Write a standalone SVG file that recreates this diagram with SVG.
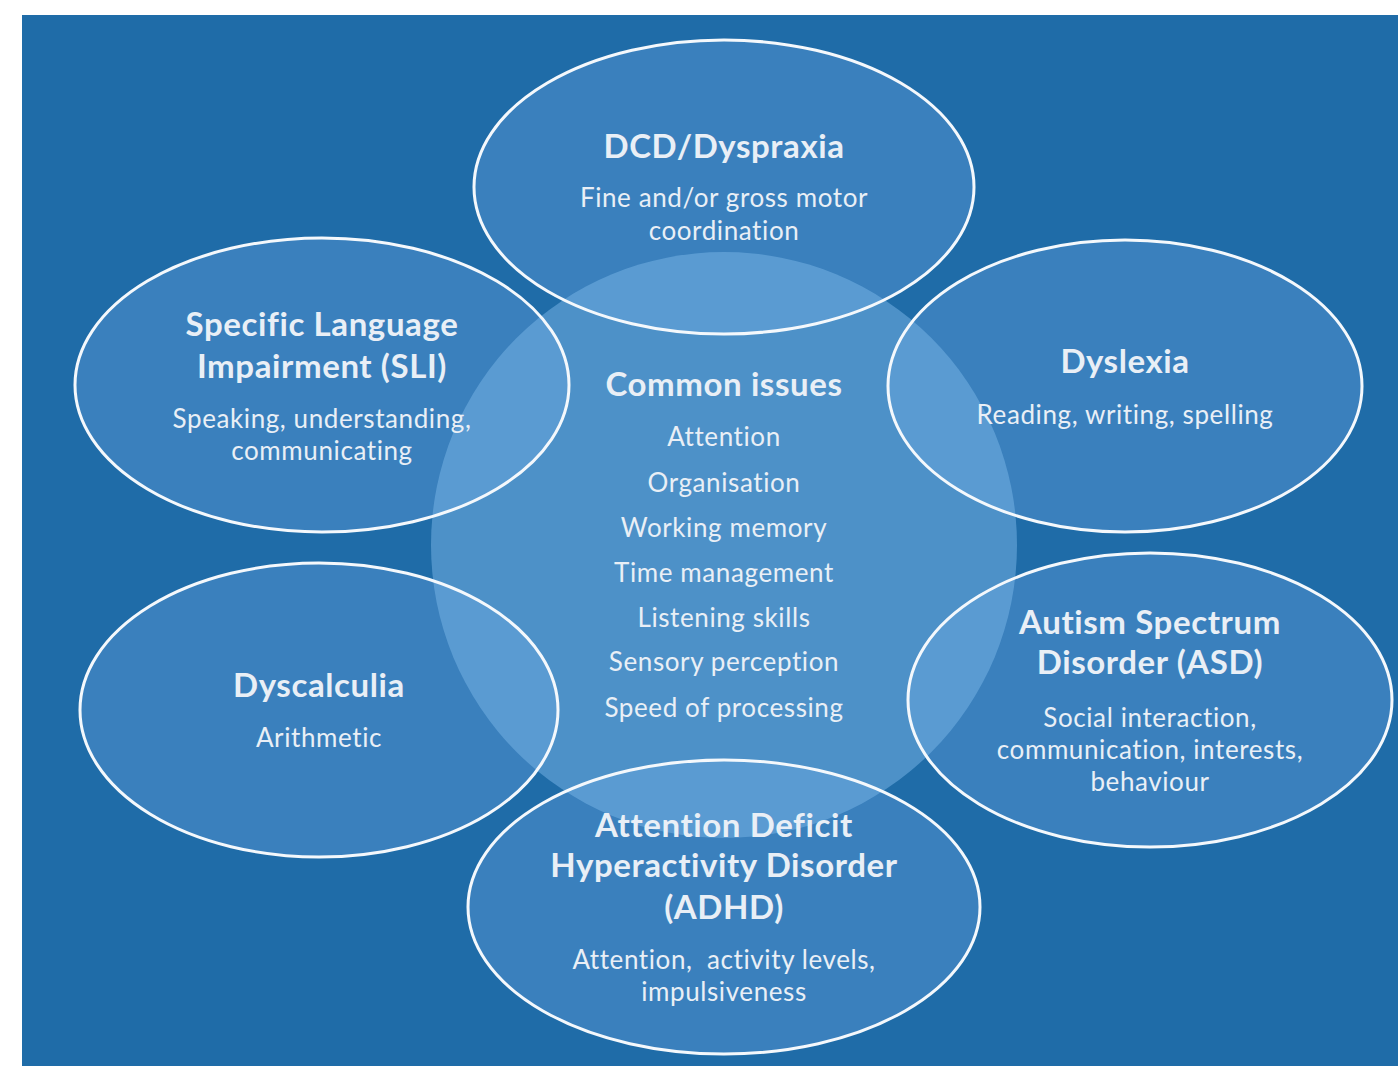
<svg xmlns="http://www.w3.org/2000/svg" width="1398" height="1066" viewBox="0 0 1398 1066">
<style>
.bg{fill:#1f6ca8}
.ell{fill:#5a9ad6;fill-opacity:0.45;stroke:none}
.edge{fill:none;stroke:#f4f8fc;stroke-width:3}
.core{fill:#78b4e6;fill-opacity:0.52}
text{font-family:Lato,"Open Sans","Liberation Sans",sans-serif;fill:#e9eff6;text-anchor:middle}
.t{font-size:33px;font-weight:bold;letter-spacing:0.6px}
.s{font-size:26px;letter-spacing:0.6px}
.pre{white-space:pre}
</style>
<rect x="0" y="0" width="1398" height="1066" fill="#ffffff"/>
<rect class="bg" x="22" y="15" width="1376" height="1051"/>
<g id="connectors"></g>
<g id="fills">
<ellipse class="ell" cx="724" cy="187" rx="250" ry="147"/>
<ellipse class="ell" cx="322" cy="385" rx="247" ry="147"/>
<ellipse class="ell" cx="1125" cy="386" rx="237" ry="146"/>
<ellipse class="ell" cx="319" cy="710" rx="239" ry="147"/>
<ellipse class="ell" cx="1150" cy="700" rx="242" ry="147"/>
<ellipse class="ell" cx="724" cy="907" rx="256" ry="147"/>
</g>
<g id="common">
<circle class="core" cx="724" cy="545" r="293"/>
<text class="t" x="724" y="396">Common issues</text>
<text class="s" x="724" y="446">Attention</text>
<text class="s" x="724" y="492">Organisation</text>
<text class="s" x="724" y="537">Working memory</text>
<text class="s" x="724" y="582">Time management</text>
<text class="s" x="724" y="627">Listening skills</text>
<text class="s" x="724" y="671">Sensory perception</text>
<text class="s" x="724" y="717">Speed of processing</text>
</g>
<g id="dcd">
<ellipse class="edge" cx="724" cy="187" rx="250" ry="147"/>
<text class="t" x="724" y="158">DCD/Dyspraxia</text>
<text class="s" x="724" y="207">Fine and/or gross motor</text>
<text class="s" x="724" y="240">coordination</text>
</g>
<g id="sli">
<ellipse class="edge" cx="322" cy="385" rx="247" ry="147"/>
<text class="t" x="322" y="336">Specific Language</text>
<text class="t" x="322" y="378">Impairment (SLI)</text>
<text class="s" x="322" y="428">Speaking, understanding,</text>
<text class="s" x="322" y="460">communicating</text>
</g>
<g id="dyslexia">
<ellipse class="edge" cx="1125" cy="386" rx="237" ry="146"/>
<text class="t" x="1125" y="373">Dyslexia</text>
<text class="s" x="1125" y="424">Reading, writing, spelling</text>
</g>
<g id="dyscalculia">
<ellipse class="edge" cx="319" cy="710" rx="239" ry="147"/>
<text class="t" x="319" y="697">Dyscalculia</text>
<text class="s" x="319" y="747">Arithmetic</text>
</g>
<g id="asd">
<ellipse class="edge" cx="1150" cy="700" rx="242" ry="147"/>
<text class="t" x="1150" y="634">Autism Spectrum</text>
<text class="t" x="1150" y="674">Disorder (ASD)</text>
<text class="s" x="1150" y="727">Social interaction,</text>
<text class="s" x="1150" y="759">communication, interests,</text>
<text class="s" x="1150" y="791">behaviour</text>
</g>
<g id="adhd">
<ellipse class="edge" cx="724" cy="907" rx="256" ry="147"/>
<text class="t" x="724" y="837">Attention Deficit</text>
<text class="t" x="724" y="877">Hyperactivity Disorder</text>
<text class="t" x="724" y="919">(ADHD)</text>
<text class="s pre" x="724" y="969">Attention,  activity levels,</text>
<text class="s" x="724" y="1001">impulsiveness</text>
</g>
</svg>
